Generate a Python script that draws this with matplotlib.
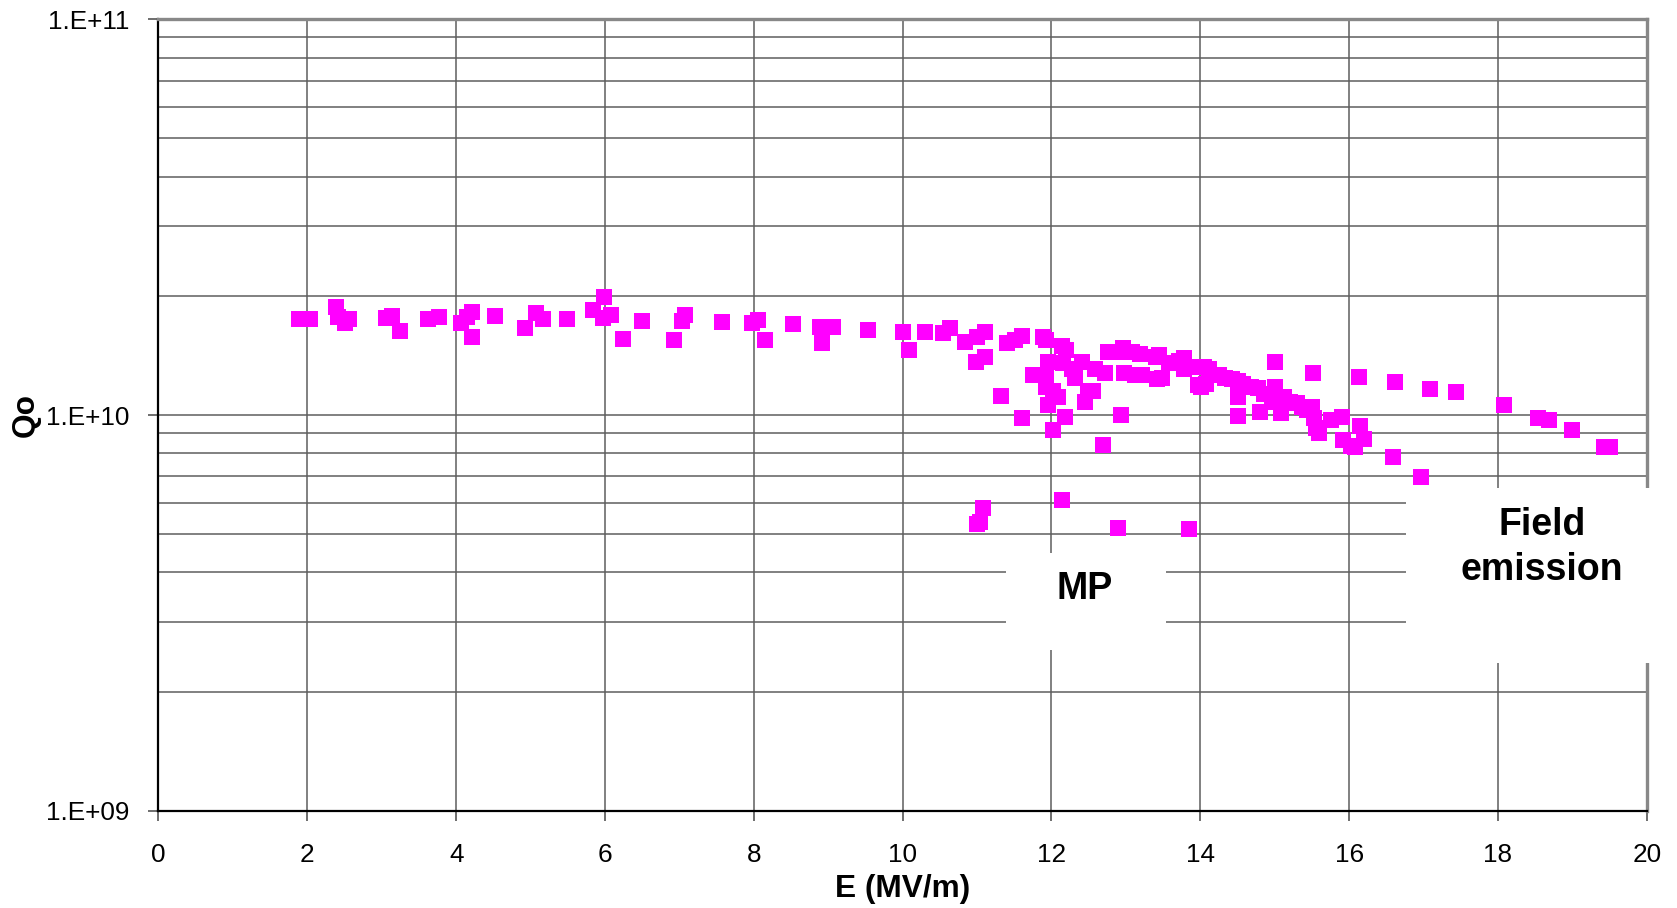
import matplotlib
matplotlib.use("Agg")
import matplotlib.pyplot as plt
import numpy as np
from matplotlib.ticker import FixedLocator, FuncFormatter, LogLocator
from matplotlib.patches import Rectangle

plt.rcParams['font.family'] = ['Liberation Sans', 'DejaVu Sans']

# E (MV/m) and Qo
e_field = [1.89, 2.04, 2.39, 2.41, 2.50, 2.56, 3.06, 3.14, 3.25, 3.62, 3.77, 4.07, 4.15, 4.21, 4.21,
           4.52, 4.93, 5.07, 5.17, 5.49, 5.84, 5.99, 5.97, 6.08, 6.24, 6.50, 6.93, 7.04, 7.07,
           7.57, 7.98, 8.06, 8.15, 8.53, 8.89, 9.00, 9.06, 8.91, 9.53, 10.01, 10.08, 10.30, 10.54,
           10.63, 10.84, 11.00, 11.10, 10.98, 11.10, 11.32, 11.40, 11.51, 11.61, 11.60, 11.75, 11.88,
           11.93, 11.95, 11.92, 11.93, 11.95, 12.02, 12.09, 12.02, 12.14, 12.20, 12.18, 12.16, 12.32,
           12.28, 12.41, 12.49, 12.45, 12.56, 12.59, 12.69, 12.72, 12.76, 12.88, 12.96, 13.08, 13.19,
           12.93, 12.98, 13.12, 13.21, 13.41, 13.42,
           13.45, 13.49, 13.58, 13.72, 13.78, 13.78, 13.86, 13.97, 14.01, 14.05, 14.12, 14.08, 14.25,
           14.33, 14.42, 14.50, 14.50, 14.50, 14.58, 14.68, 14.77, 14.80, 14.86, 14.93, 15.00, 15.01,
           14.96, 15.04, 15.09, 15.12, 15.20, 15.30, 15.37, 15.44, 15.50, 15.51, 15.53, 15.56, 15.60,
           15.76, 15.90, 15.92, 16.02, 16.08, 16.14, 16.20, 16.13, 16.61, 16.59, 16.96, 17.08, 17.44,
           18.08, 18.54, 18.68, 19.00, 19.43, 19.50,
           11.00, 11.04, 11.08, 12.14, 12.89, 13.85]
qo = [1.75e10, 1.75e10, 1.87e10, 1.77e10, 1.71e10, 1.75e10, 1.76e10, 1.78e10, 1.63e10, 1.75e10, 1.77e10,
      1.71e10, 1.77e10, 1.82e10, 1.57e10, 1.78e10, 1.66e10, 1.81e10, 1.75e10, 1.75e10, 1.84e10, 1.99e10,
      1.76e10, 1.79e10, 1.56e10, 1.73e10, 1.55e10, 1.73e10, 1.79e10,
      1.72e10, 1.71e10, 1.74e10, 1.55e10, 1.70e10, 1.67e10, 1.67e10, 1.67e10, 1.52e10, 1.64e10, 1.62e10,
      1.46e10, 1.62e10, 1.61e10, 1.66e10, 1.53e10, 1.57e10, 1.62e10, 1.36e10, 1.40e10, 1.12e10, 1.52e10,
      1.55e10, 1.58e10, 9.8e9, 1.26e10, 1.57e10, 1.55e10, 1.36e10, 1.25e10, 1.18e10, 1.06e10, 1.15e10,
      1.11e10, 9.16e9, 1.49e10, 1.46e10, 9.9e9, 1.35e10, 1.24e10, 1.31e10, 1.36e10, 1.15e10, 1.08e10,
      1.15e10, 1.31e10, 8.4e9, 1.28e10, 1.44e10, 1.44e10, 1.48e10, 1.44e10, 1.43e10, 1.0e10, 1.28e10,
      1.26e10, 1.26e10, 1.40e10, 1.23e10,
      1.42e10, 1.24e10, 1.35e10, 1.37e10, 1.39e10, 1.31e10, 1.32e10, 1.19e10, 1.18e10, 1.32e10, 1.31e10,
      1.20e10, 1.26e10, 1.24e10, 1.23e10, 1.22e10, 1.11e10, 9.94e9, 1.20e10, 1.18e10, 1.17e10, 1.02e10,
      1.13e10, 1.13e10, 1.36e10, 1.18e10, 1.08e10, 1.10e10, 1.01e10, 1.11e10, 1.08e10, 1.07e10, 1.05e10,
      1.03e10, 1.05e10, 1.28e10, 9.8e9, 9.27e9, 9.0e9, 9.7e9, 9.9e9, 8.63e9, 8.35e9, 8.3e9, 9.4e9, 8.7e9,
      1.25e10, 1.21e10, 7.83e9, 6.97e9, 1.16e10, 1.14e10, 1.06e10, 9.8e9, 9.7e9, 9.16e9, 8.3e9, 8.3e9,
      5.30e9, 5.37e9, 5.81e9, 6.1e9, 5.17e9, 5.15e9]

x_ticks = [0, 2, 4, 6, 8, 10, 12, 14, 16, 18, 20]

fig = plt.figure(figsize=(16.77, 9.08), dpi=100)
ax = fig.add_axes([0.0945, 0.1071, 0.8875, 0.8717])

ax.plot(e_field, qo, 's', color='#FF00FF', ms=11.3, mew=0, ls='none', zorder=4)

ax.set_yscale('log')
ax.set_ylim(1e9, 1e11)
ax.set_xlim(0, 20)
ax.xaxis.set_major_locator(FixedLocator(x_ticks))
ax.yaxis.set_major_locator(LogLocator(base=10))
ax.yaxis.set_minor_locator(LogLocator(base=10, subs=np.arange(2, 10)))
ax.yaxis.set_major_formatter(FuncFormatter(lambda v, p: "1.E+%02d" % int(round(np.log10(v)))))
ax.yaxis.set_minor_formatter(FuncFormatter(lambda v, p: ""))

ax.grid(True, which='major', axis='x', color='#5e5e5e', lw=1.1)
ax.grid(True, which='both', axis='y', color='#5e5e5e', lw=1.1)
ax.set_axisbelow(True)

ax.tick_params(axis='both', which='major', labelsize=18.8, length=7, width=1.2, direction='out', color='#555555')
ax.tick_params(axis='x', pad=16)
ax.tick_params(axis='y', pad=14)
ax.tick_params(axis='y', which='minor', length=0)

for s in ['left', 'bottom']:
    ax.spines[s].set_color('black')
    ax.spines[s].set_linewidth(1.6)
for s in ['top', 'right']:
    ax.spines[s].set_color('#888888')
    ax.spines[s].set_linewidth(2.4)

ax.set_xlabel('E (MV/m)', fontsize=22.8, fontweight='bold')
ax.xaxis.set_label_coords(0.5, -0.080)
ax.set_ylabel('Qo', fontsize=22.8, fontweight='bold', va='center')
ax.yaxis.set_label_coords(-0.0895, 0.5)

# white label boxes
ax.add_patch(Rectangle((0.5694, 0.2030), 0.1075, 0.1226, transform=ax.transAxes,
                       facecolor='white', edgecolor='none', zorder=5, clip_on=False))
ax.add_patch(Rectangle((0.8381, 0.1866), 0.1705, 0.2211, transform=ax.transAxes,
                       facecolor='white', edgecolor='none', zorder=5, clip_on=False))
ax.text(0.6223, 0.2675, 'MP', transform=ax.transAxes, fontsize=27, fontweight='bold',
        ha='center', va='baseline', zorder=6)
ax.text(0.9295, 0.3483, 'Field', transform=ax.transAxes, fontsize=27, fontweight='bold',
        ha='center', va='baseline', zorder=6)
ax.text(0.9295, 0.2915, 'emission', transform=ax.transAxes, fontsize=27, fontweight='bold',
        ha='center', va='baseline', zorder=6)

fig.savefig('out.png', dpi=100)
